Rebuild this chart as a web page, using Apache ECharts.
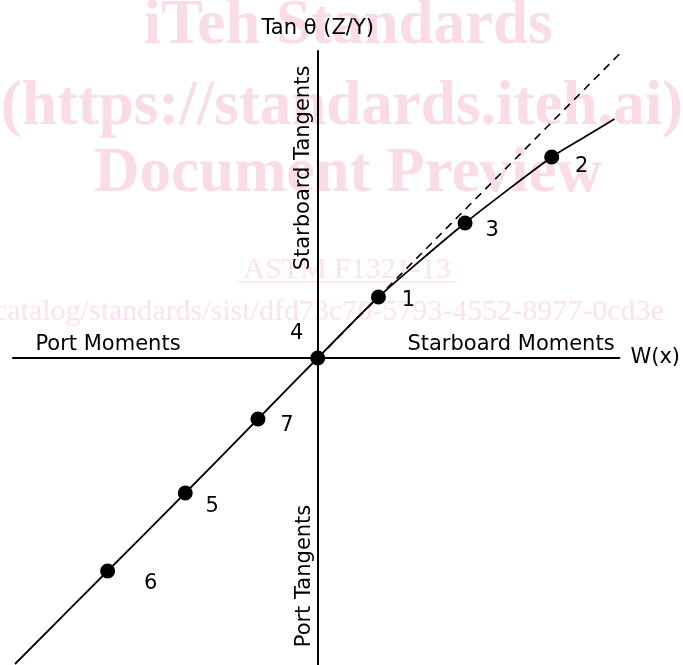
<!DOCTYPE html>
<html>
<head>
<meta charset="utf-8">
<script src="https://cdn.jsdelivr.net/npm/echarts@6/dist/echarts.min.js"></script>
<style>
html,body{margin:0;padding:0;background:#fff;}
#chart{width:683px;height:665px;}
</style>
</head>
<body>
<div id="chart"></div>
<script>
// Data (arbitrary units; origin = point 4)
const pointLabels = ['6', '5', '7', '4', '1', '3', '2'];
const pointW      = [-211, -133, -60, 0, 61, 148, 235];
const pointTan    = [-213, -135, -61, 0, 61, 135, 201];

const curveW   = [-304, -211, -133, -60, 0, 61, 148, 235, 268, 298];
const curveTan = [-306, -213, -135, -61, 0, 61, 135, 201, 221, 239];

const refW   = [0, 304];
const refTan = [0, 305];

const axisRangeW   = [-306, 303];
const axisRangeTan = [-307, 307];

const xAxisName = 'W(x)';
const yAxisName = 'Tan θ (Z/Y)';
const quadrantTexts = ['Port Moments', 'Starboard Moments', 'Starboard Tangents', 'Port Tangents'];
const watermarkLines = ['iTeh Standards', '(https://standards.iteh.ai)', 'Document Preview', 'ASTM F1321-13',
  'catalog/standards/sist/dfd73c70-5793-4552-8977-0cd3e'];

// label placement (style)
const labelOffsets = {'6':[43,13],'5':[27,14],'7':[29,7],'4':[-21,-24],'1':[30,4],'3':[27,8],'2':[30,10]};

const FONT = 'DejaVu Sans';
const FS = 21;
const zip = (a, b) => a.map((v, i) => [v, b[i]]);

const chart = echarts.init(document.getElementById('chart'), null, {renderer: 'canvas'});

const wmBold = {fill: '#fadce4', fontFamily: 'Liberation Serif', fontWeight: 'bold', fontSize: 63, textAlign: 'center', textVerticalAlign: 'bottom'};
const wmReg = {fill: '#fce3ea', fontFamily: 'Liberation Serif', fontSize: 30, textVerticalAlign: 'bottom'};

const blackText = {fill: '#000', fontFamily: FONT, fontSize: FS, textAlign: 'center', textVerticalAlign: 'middle'};

const option = {
  animation: false,
  backgroundColor: '#fff',
  grid: {left: 13, right: 61, top: 51, bottom: 0, containLabel: false},
  xAxis: {
    type: 'value', min: axisRangeW[0], max: axisRangeW[1],
    name: xAxisName, nameLocation: 'end', nameGap: 11,
    nameTextStyle: {color: '#000', fontFamily: FONT, fontSize: FS, verticalAlign: 'middle'},
    axisLine: {show: true, onZero: true, lineStyle: {color: '#000', width: 2}},
    axisTick: {show: false}, axisLabel: {show: false}, splitLine: {show: false}
  },
  yAxis: {
    type: 'value', min: axisRangeTan[0], max: axisRangeTan[1],
    name: yAxisName, nameLocation: 'end', nameGap: 12,
    nameTextStyle: {color: '#000', fontFamily: FONT, fontSize: FS, align: 'center'},
    axisLine: {show: true, onZero: true, lineStyle: {color: '#000', width: 2}},
    axisTick: {show: false}, axisLabel: {show: false}, splitLine: {show: false}
  },
  graphic: [
    {type: 'text', z: -10, style: Object.assign({}, wmBold, {text: watermarkLines[0], x: 348, y: 58})},
    {type: 'text', z: -10, style: Object.assign({}, wmBold, {text: watermarkLines[1], x: 342, y: 139})},
    {type: 'text', z: -10, style: Object.assign({}, wmBold, {text: watermarkLines[2], x: 348, y: 206})},
    {type: 'text', z: -10, style: Object.assign({}, wmReg, {text: watermarkLines[3], x: 347, y: 285, textAlign: 'center'})},
    {type: 'rect', z: -10, shape: {x: 237, y: 281, width: 220, height: 1.5}, style: {fill: '#fce3ea'}},
    {type: 'text', z: -10, style: Object.assign({}, wmReg, {text: watermarkLines[4], x: -6, y: 327, textAlign: 'left'})},
    {type: 'text', z: 10, style: Object.assign({}, blackText, {text: quadrantTexts[0], x: 108, y: 345})},
    {type: 'text', z: 10, style: Object.assign({}, blackText, {text: quadrantTexts[1], x: 511, y: 345})},
    {type: 'text', z: 10, x: 304, y: 168, rotation: Math.PI / 2, style: Object.assign({}, blackText, {text: quadrantTexts[2], x: 0, y: 0})},
    {type: 'text', z: 10, x: 305, y: 576, rotation: Math.PI / 2, style: Object.assign({}, blackText, {text: quadrantTexts[3], x: 0, y: 0})}
  ],
  series: [
    {
      type: 'line', data: zip(refW, refTan), symbol: 'none', clip: false, z: 3,
      lineStyle: {color: '#000', width: 1.6, type: [8, 6]}
    },
    {
      type: 'line', data: zip(curveW, curveTan), symbol: 'none', smooth: 0.2, clip: true, z: 4,
      lineStyle: {color: '#000', width: 1.8}
    },
    {
      type: 'scatter', z: 5, symbol: 'circle', symbolSize: 15,
      itemStyle: {color: '#000', opacity: 1},
      data: pointW.map((w, i) => ({
        value: [w, pointTan[i]],
        name: pointLabels[i],
        label: {show: true, position: 'inside', offset: labelOffsets[pointLabels[i]],
          formatter: pointLabels[i], color: '#000', opacity: 1, fontFamily: FONT, fontSize: FS}
      }))
    }
  ]
};
chart.setOption(option);
</script>
</body>
</html>
